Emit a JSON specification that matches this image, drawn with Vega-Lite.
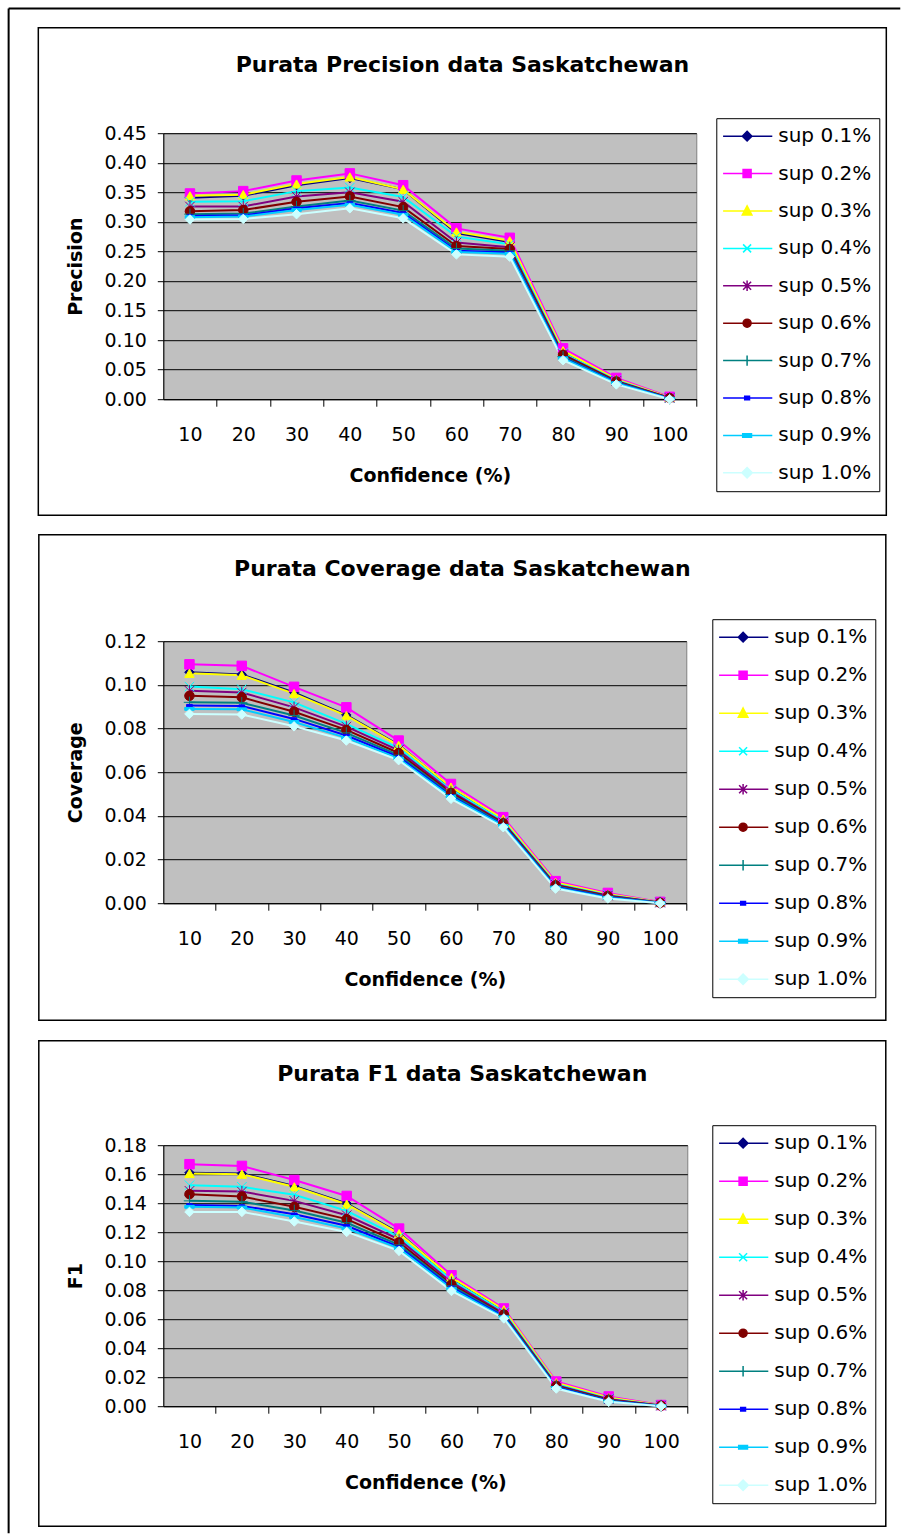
{
  "$schema": "https://vega.github.io/schema/vega-lite/v6.json",
  "padding": {"left": 6.3, "top": 6.2, "right": 0, "bottom": 0},
  "background": "#ffffff",
  "datasets": {
    "sask": [
      {"c":10,"s":"sup 0.1%","p":0.341,"cv":0.1058,"f":0.1610},
      {"c":10,"s":"sup 0.2%","p":0.348,"cv":0.1094,"f":0.1669},
      {"c":10,"s":"sup 0.3%","p":0.344,"cv":0.1053,"f":0.1605},
      {"c":10,"s":"sup 0.4%","p":0.334,"cv":0.0992,"f":0.1524},
      {"c":10,"s":"sup 0.5%","p":0.326,"cv":0.0973,"f":0.1485},
      {"c":10,"s":"sup 0.6%","p":0.318,"cv":0.0950,"f":0.1462},
      {"c":10,"s":"sup 0.7%","p":0.313,"cv":0.0920,"f":0.1416},
      {"c":10,"s":"sup 0.8%","p":0.310,"cv":0.0905,"f":0.1388},
      {"c":10,"s":"sup 0.9%","p":0.308,"cv":0.0890,"f":0.1375},
      {"c":10,"s":"sup 1.0%","p":0.304,"cv":0.0867,"f":0.1340},
      {"c":20,"s":"sup 0.1%","p":0.344,"cv":0.1048,"f":0.1605},
      {"c":20,"s":"sup 0.2%","p":0.352,"cv":0.1087,"f":0.1657},
      {"c":20,"s":"sup 0.3%","p":0.346,"cv":0.1044,"f":0.1600},
      {"c":20,"s":"sup 0.4%","p":0.335,"cv":0.0980,"f":0.1513},
      {"c":20,"s":"sup 0.5%","p":0.326,"cv":0.0965,"f":0.1480},
      {"c":20,"s":"sup 0.6%","p":0.320,"cv":0.0943,"f":0.1446},
      {"c":20,"s":"sup 0.7%","p":0.314,"cv":0.0918,"f":0.1410},
      {"c":20,"s":"sup 0.8%","p":0.311,"cv":0.0903,"f":0.1381},
      {"c":20,"s":"sup 0.9%","p":0.309,"cv":0.0888,"f":0.1370},
      {"c":20,"s":"sup 1.0%","p":0.305,"cv":0.0864,"f":0.1340},
      {"c":30,"s":"sup 0.1%","p":0.362,"cv":0.0965,"f":0.1518},
      {"c":30,"s":"sup 0.2%","p":0.370,"cv":0.0991,"f":0.1560},
      {"c":30,"s":"sup 0.3%","p":0.364,"cv":0.0960,"f":0.1513},
      {"c":30,"s":"sup 0.4%","p":0.352,"cv":0.0920,"f":0.1458},
      {"c":30,"s":"sup 0.5%","p":0.343,"cv":0.0897,"f":0.1416},
      {"c":30,"s":"sup 0.6%","p":0.334,"cv":0.0877,"f":0.1375},
      {"c":30,"s":"sup 0.7%","p":0.326,"cv":0.0860,"f":0.1350},
      {"c":30,"s":"sup 0.8%","p":0.323,"cv":0.0844,"f":0.1324},
      {"c":30,"s":"sup 0.9%","p":0.320,"cv":0.0830,"f":0.1305},
      {"c":30,"s":"sup 1.0%","p":0.313,"cv":0.0810,"f":0.1274},
      {"c":40,"s":"sup 0.1%","p":0.374,"cv":0.0862,"f":0.1398},
      {"c":40,"s":"sup 0.2%","p":0.382,"cv":0.0897,"f":0.1450},
      {"c":40,"s":"sup 0.3%","p":0.376,"cv":0.0859,"f":0.1393},
      {"c":40,"s":"sup 0.4%","p":0.358,"cv":0.0821,"f":0.1347},
      {"c":40,"s":"sup 0.5%","p":0.350,"cv":0.0809,"f":0.1317},
      {"c":40,"s":"sup 0.6%","p":0.343,"cv":0.0794,"f":0.1290},
      {"c":40,"s":"sup 0.7%","p":0.336,"cv":0.0780,"f":0.1265},
      {"c":40,"s":"sup 0.8%","p":0.332,"cv":0.0768,"f":0.1244},
      {"c":40,"s":"sup 0.9%","p":0.329,"cv":0.0757,"f":0.1225},
      {"c":40,"s":"sup 1.0%","p":0.323,"cv":0.0745,"f":0.1202},
      {"c":50,"s":"sup 0.1%","p":0.355,"cv":0.0725,"f":0.1195},
      {"c":50,"s":"sup 0.2%","p":0.362,"cv":0.0745,"f":0.1225},
      {"c":50,"s":"sup 0.3%","p":0.355,"cv":0.0723,"f":0.1190},
      {"c":50,"s":"sup 0.4%","p":0.342,"cv":0.0710,"f":0.1168},
      {"c":50,"s":"sup 0.5%","p":0.334,"cv":0.0700,"f":0.1150},
      {"c":50,"s":"sup 0.6%","p":0.325,"cv":0.0688,"f":0.1129},
      {"c":50,"s":"sup 0.7%","p":0.319,"cv":0.0678,"f":0.1112},
      {"c":50,"s":"sup 0.8%","p":0.315,"cv":0.0670,"f":0.1098},
      {"c":50,"s":"sup 0.9%","p":0.312,"cv":0.0663,"f":0.1088},
      {"c":50,"s":"sup 1.0%","p":0.306,"cv":0.0655,"f":0.1071},
      {"c":60,"s":"sup 0.1%","p":0.281,"cv":0.0530,"f":0.0885},
      {"c":60,"s":"sup 0.2%","p":0.289,"cv":0.0546,"f":0.0903},
      {"c":60,"s":"sup 0.3%","p":0.283,"cv":0.0532,"f":0.0888},
      {"c":60,"s":"sup 0.4%","p":0.275,"cv":0.0520,"f":0.0870},
      {"c":60,"s":"sup 0.5%","p":0.265,"cv":0.0512,"f":0.0855},
      {"c":60,"s":"sup 0.6%","p":0.259,"cv":0.0505,"f":0.0840},
      {"c":60,"s":"sup 0.7%","p":0.255,"cv":0.0498,"f":0.0830},
      {"c":60,"s":"sup 0.8%","p":0.251,"cv":0.0492,"f":0.0820},
      {"c":60,"s":"sup 0.9%","p":0.249,"cv":0.0487,"f":0.0810},
      {"c":60,"s":"sup 1.0%","p":0.245,"cv":0.0478,"f":0.0795},
      {"c":70,"s":"sup 0.1%","p":0.266,"cv":0.0383,"f":0.0662},
      {"c":70,"s":"sup 0.2%","p":0.273,"cv":0.0394,"f":0.0674},
      {"c":70,"s":"sup 0.3%","p":0.268,"cv":0.0385,"f":0.0665},
      {"c":70,"s":"sup 0.4%","p":0.262,"cv":0.0376,"f":0.0650},
      {"c":70,"s":"sup 0.5%","p":0.257,"cv":0.0370,"f":0.0640},
      {"c":70,"s":"sup 0.6%","p":0.254,"cv":0.0366,"f":0.0632},
      {"c":70,"s":"sup 0.7%","p":0.251,"cv":0.0361,"f":0.0625},
      {"c":70,"s":"sup 0.8%","p":0.248,"cv":0.0357,"f":0.0618},
      {"c":70,"s":"sup 0.9%","p":0.246,"cv":0.0354,"f":0.0612},
      {"c":70,"s":"sup 1.0%","p":0.241,"cv":0.0348,"f":0.0605},
      {"c":80,"s":"sup 0.1%","p":0.080,"cv":0.0092,"f":0.0158},
      {"c":80,"s":"sup 0.2%","p":0.086,"cv":0.0101,"f":0.0170},
      {"c":80,"s":"sup 0.3%","p":0.082,"cv":0.0095,"f":0.0162},
      {"c":80,"s":"sup 0.4%","p":0.078,"cv":0.0088,"f":0.0152},
      {"c":80,"s":"sup 0.5%","p":0.076,"cv":0.0085,"f":0.0145},
      {"c":80,"s":"sup 0.6%","p":0.075,"cv":0.0082,"f":0.0140},
      {"c":80,"s":"sup 0.7%","p":0.072,"cv":0.0078,"f":0.0135},
      {"c":80,"s":"sup 0.8%","p":0.070,"cv":0.0074,"f":0.0130},
      {"c":80,"s":"sup 0.9%","p":0.069,"cv":0.0071,"f":0.0126},
      {"c":80,"s":"sup 1.0%","p":0.066,"cv":0.0067,"f":0.0122},
      {"c":90,"s":"sup 0.1%","p":0.033,"cv":0.0040,"f":0.0058},
      {"c":90,"s":"sup 0.2%","p":0.036,"cv":0.0047,"f":0.0067},
      {"c":90,"s":"sup 0.3%","p":0.034,"cv":0.0042,"f":0.0060},
      {"c":90,"s":"sup 0.4%","p":0.032,"cv":0.0038,"f":0.0052},
      {"c":90,"s":"sup 0.5%","p":0.031,"cv":0.0035,"f":0.0048},
      {"c":90,"s":"sup 0.6%","p":0.030,"cv":0.0033,"f":0.0044},
      {"c":90,"s":"sup 0.7%","p":0.029,"cv":0.0030,"f":0.0040},
      {"c":90,"s":"sup 0.8%","p":0.028,"cv":0.0027,"f":0.0036},
      {"c":90,"s":"sup 0.9%","p":0.027,"cv":0.0025,"f":0.0033},
      {"c":90,"s":"sup 1.0%","p":0.025,"cv":0.0022,"f":0.0030},
      {"c":100,"s":"sup 0.1%","p":0.003,"cv":0.0004,"f":0.0006},
      {"c":100,"s":"sup 0.2%","p":0.004,"cv":0.0006,"f":0.0008},
      {"c":100,"s":"sup 0.3%","p":0.003,"cv":0.0004,"f":0.0006},
      {"c":100,"s":"sup 0.4%","p":0.002,"cv":0.0003,"f":0.0005},
      {"c":100,"s":"sup 0.5%","p":0.002,"cv":0.0003,"f":0.0004},
      {"c":100,"s":"sup 0.6%","p":0.002,"cv":0.0002,"f":0.0003},
      {"c":100,"s":"sup 0.7%","p":0.001,"cv":0.0002,"f":0.0002},
      {"c":100,"s":"sup 0.8%","p":0.001,"cv":0.0001,"f":0.0002},
      {"c":100,"s":"sup 0.9%","p":0.001,"cv":0.0001,"f":0.0001},
      {"c":100,"s":"sup 1.0%","p":0.000,"cv":0.0000,"f":0.0000}
    ]
  },
  "bounds": "flush",
  "spacing": 242,
  "resolve": {
    "scale": {"color": "independent", "stroke": "independent", "shape": "independent"},
    "legend": {"color": "independent", "stroke": "independent", "shape": "independent"}
  },
  "vconcat": [
    {
      "width": 533, "height": 266,
      "view": {"fill": "#C0C0C0", "stroke": "#808080", "strokeWidth": 1},
      "title": {"text": "Purata Precision data Saskatchewan", "offset": -70, "dx": 8},
      "resolve": {
        "scale": {"color": "independent", "stroke": "independent", "shape": "independent"},
        "legend": {"color": "independent", "stroke": "independent", "shape": "independent"}
      },
      "layer": [
        {
          "data": {"name": "sask"},
          "mark": {"type": "line", "strokeWidth": 2},
          "encoding": {
            "x": {"field": "c", "type": "quantitative", "scale": {"domain": [5, 105], "nice": false, "zero": false},
                  "axis": {"values": [10,20,30,40,50,60,70,80,90,100], "tickCount": 30, "tickOffset": 26.65, "labelOffset": -26.65, "title": "Confidence (%)"}},
            "y": {"field": "p", "type": "quantitative", "scale": {"domain": [0, 0.45], "nice": false, "zero": false},
                  "axis": {"values": [0,0.05,0.1,0.15,0.2,0.25,0.3,0.35,0.4,0.45], "tickCount": 30, "format": ".2f", "title": "Precision"}},
            "color": {"field": "s", "type": "nominal", "legend": null,
                      "scale": {"domain": ["sup 0.1%","sup 0.2%","sup 0.3%","sup 0.4%","sup 0.5%","sup 0.6%","sup 0.7%","sup 0.8%","sup 0.9%","sup 1.0%"],
                                "range": ["#000080","#FF00FF","#FFFF00","#00FFFF","#800080","#800000","#008080","#0000FF","#00CCFF","#CCFFFF"]}}
          }
        },
        {
          "data": {"name": "sask"},
          "mark": {"type": "point", "filled": true, "size": 90, "strokeWidth": 1, "opacity": 1},
          "encoding": {
            "x": {"field": "c", "type": "quantitative"},
            "y": {"field": "p", "type": "quantitative"},
            "color": {"field": "s", "type": "nominal", "legend": null,
                      "scale": {"domain": ["sup 0.1%","sup 0.2%","sup 0.3%","sup 0.4%","sup 0.5%","sup 0.6%","sup 0.7%","sup 0.8%","sup 0.9%","sup 1.0%"],
                                "range": ["#000080","#FF00FF","#FFFF00","#00FFFF","#800080","#800000","#008080","#0000FF","#00CCFF","#CCFFFF"]}},
            "stroke": {"field": "s", "type": "nominal", "legend": null,
                       "scale": {"domain": ["sup 0.1%","sup 0.2%","sup 0.3%","sup 0.4%","sup 0.5%","sup 0.6%","sup 0.7%","sup 0.8%","sup 0.9%","sup 1.0%"],
                                 "range": ["#000080","#FF00FF","#FFFF00","#00FFFF","#800080","#800000","#008080","#0000FF","#00CCFF","#CCFFFF"]}},
            "shape": {"field": "s", "type": "nominal", "legend": null,
                      "scale": {"domain": ["sup 0.1%","sup 0.2%","sup 0.3%","sup 0.4%","sup 0.5%","sup 0.6%","sup 0.7%","sup 0.8%","sup 0.9%","sup 1.0%"],
                                "range": ["diamond","square","triangle-up","M-1,-1L1,1M-1,1L1,-1","M-1,-1L1,1M-1,1L1,-1M0,-1.2L0,1.2","circle","M-1.2,0L1.2,0M0,-1.2L0,1.2","M-0.6,-0.25L0.6,-0.25L0.6,0.25L-0.6,0.25Z","M-1,-0.3L1,-0.3L1,0.3L-1,0.3Z","diamond"]}}
          }
        },
        {
          "data": {"name": "sask"},
          "mark": {"type": "point", "filled": true, "size": 80, "strokeWidth": 1.5, "opacity": 0},
          "encoding": {
            "x": {"field": "c", "type": "quantitative"},
            "y": {"field": "p", "type": "quantitative"},
            "color": {"field": "s", "type": "nominal",
                      "scale": {"domain": ["sup 0.1%","sup 0.2%","sup 0.3%","sup 0.4%","sup 0.5%","sup 0.6%","sup 0.7%","sup 0.8%","sup 0.9%","sup 1.0%"],
                                "range": ["#000080","#FF00FF","#FFFF00","#00FFFF","#800080","#800000","#008080","#0000FF","#00CCFF","#CCFFFF"]},
                      "legend": {"legendX": 553, "legendY": -15, "rowPadding": 17.4}},
            "stroke": {"field": "s", "type": "nominal", "legend": null,
                       "scale": {"domain": ["sup 0.1%","sup 0.2%","sup 0.3%","sup 0.4%","sup 0.5%","sup 0.6%","sup 0.7%","sup 0.8%","sup 0.9%","sup 1.0%"],
                                 "range": ["#000080","#FF00FF","#FFFF00","#00FFFF","#800080","#800000","#008080","#0000FF","#00CCFF","#CCFFFF"]}},
            "shape": {"field": "s", "type": "nominal", "legend": null,
                      "scale": {"domain": ["sup 0.1%","sup 0.2%","sup 0.3%","sup 0.4%","sup 0.5%","sup 0.6%","sup 0.7%","sup 0.8%","sup 0.9%","sup 1.0%"],
                                "range": ["M-1.4,0L4.75,0M1.6,-0.6L2.2,0L1.6,0.6L1,0Z","M-1.4,0L4.75,0M1.1,-0.5L2.1,-0.5L2.1,0.5L1.1,0.5Z","M-1.4,0L4.75,0M1.6,-0.65L2.2,0.5L1,0.5Z","M-1.4,0L4.75,0M1.1,-0.5L2.1,0.5M1.1,0.5L2.1,-0.5","M-1.4,0L4.75,0M1.1,-0.5L2.1,0.5M1.1,0.5L2.1,-0.5M1.6,-0.65L1.6,0.65","M-1.4,0L4.75,0M1.1,0A0.5,0.5 0 1,0 2.1,0A0.5,0.5 0 1,0 1.1,0Z","M-1.4,0L4.75,0M1.6,-0.65L1.6,0.65","M-1.4,0L4.75,0M1.3,-0.22L1.9,-0.22L1.9,0.22L1.3,0.22Z","M-1.4,0L4.75,0M1.05,-0.22L2.15,-0.22L2.15,0.22L1.05,0.22Z","M-1.4,0L4.75,0M1.6,-0.65L2.25,0L1.6,0.65L0.95,0Z"]}}
          }
        },
        {
          "data": {"values": [{}]},
          "mark": {"type": "rect", "fill": "transparent", "stroke": "#000000", "strokeWidth": 1.5},
          "encoding": {"x": {"datum": -18.45, "type": "quantitative"}, "x2": {"datum": 140.65}, "y": {"datum": 0.6285, "type": "quantitative"}, "y2": {"datum": -0.1963}}
        },
        {
          "data": {"values": [{}]},
          "mark": {"type": "rule", "stroke": "#000000", "strokeWidth": 2},
          "encoding": {"x": {"datum": -24.02, "type": "quantitative"}, "x2": {"datum": 143.27}, "y": {"datum": 0.6611, "type": "quantitative"}}
        },
        {
          "data": {"values": [{}]},
          "mark": {"type": "rule", "stroke": "#000000", "strokeWidth": 2},
          "encoding": {"x": {"datum": -24.02, "type": "quantitative"}, "y": {"datum": 0.6611, "type": "quantitative"}, "y2": {"datum": -1.9185}}
        }
      ]
    },
    {
      "width": 523, "height": 262,
      "view": {"fill": "#C0C0C0", "stroke": "#808080", "strokeWidth": 1},
      "title": {"text": "Purata Coverage data Saskatchewan", "offset": -47},
      "resolve": {
        "scale": {"color": "independent", "stroke": "independent", "shape": "independent"},
        "legend": {"color": "independent", "stroke": "independent", "shape": "independent"}
      },
      "layer": [
        {
          "data": {"name": "sask"},
          "mark": {"type": "line", "strokeWidth": 2},
          "encoding": {
            "x": {"field": "c", "type": "quantitative", "scale": {"domain": [5, 105], "nice": false, "zero": false},
                  "axis": {"values": [10,20,30,40,50,60,70,80,90,100], "tickCount": 30, "tickOffset": 26.15, "labelOffset": -26.15, "title": "Confidence (%)"}},
            "y": {"field": "cv", "type": "quantitative", "scale": {"domain": [0, 0.12], "nice": false, "zero": false},
                  "axis": {"values": [0,0.02,0.04,0.06,0.08,0.1,0.12], "tickCount": 30, "format": ".2f", "title": "Coverage"}},
            "color": {"field": "s", "type": "nominal", "legend": null,
                      "scale": {"domain": ["sup 0.1%","sup 0.2%","sup 0.3%","sup 0.4%","sup 0.5%","sup 0.6%","sup 0.7%","sup 0.8%","sup 0.9%","sup 1.0%"],
                                "range": ["#000080","#FF00FF","#FFFF00","#00FFFF","#800080","#800000","#008080","#0000FF","#00CCFF","#CCFFFF"]}}
          }
        },
        {
          "data": {"name": "sask"},
          "mark": {"type": "point", "filled": true, "size": 90, "strokeWidth": 1, "opacity": 1},
          "encoding": {
            "x": {"field": "c", "type": "quantitative"},
            "y": {"field": "cv", "type": "quantitative"},
            "color": {"field": "s", "type": "nominal", "legend": null,
                      "scale": {"domain": ["sup 0.1%","sup 0.2%","sup 0.3%","sup 0.4%","sup 0.5%","sup 0.6%","sup 0.7%","sup 0.8%","sup 0.9%","sup 1.0%"],
                                "range": ["#000080","#FF00FF","#FFFF00","#00FFFF","#800080","#800000","#008080","#0000FF","#00CCFF","#CCFFFF"]}},
            "stroke": {"field": "s", "type": "nominal", "legend": null,
                       "scale": {"domain": ["sup 0.1%","sup 0.2%","sup 0.3%","sup 0.4%","sup 0.5%","sup 0.6%","sup 0.7%","sup 0.8%","sup 0.9%","sup 1.0%"],
                                 "range": ["#000080","#FF00FF","#FFFF00","#00FFFF","#800080","#800000","#008080","#0000FF","#00CCFF","#CCFFFF"]}},
            "shape": {"field": "s", "type": "nominal", "legend": null,
                      "scale": {"domain": ["sup 0.1%","sup 0.2%","sup 0.3%","sup 0.4%","sup 0.5%","sup 0.6%","sup 0.7%","sup 0.8%","sup 0.9%","sup 1.0%"],
                                "range": ["diamond","square","triangle-up","M-1,-1L1,1M-1,1L1,-1","M-1,-1L1,1M-1,1L1,-1M0,-1.2L0,1.2","circle","M-1.2,0L1.2,0M0,-1.2L0,1.2","M-0.6,-0.25L0.6,-0.25L0.6,0.25L-0.6,0.25Z","M-1,-0.3L1,-0.3L1,0.3L-1,0.3Z","diamond"]}}
          }
        },
        {
          "data": {"name": "sask"},
          "mark": {"type": "point", "filled": true, "size": 80, "strokeWidth": 1.5, "opacity": 0},
          "encoding": {
            "x": {"field": "c", "type": "quantitative"},
            "y": {"field": "cv", "type": "quantitative"},
            "color": {"field": "s", "type": "nominal",
                      "scale": {"domain": ["sup 0.1%","sup 0.2%","sup 0.3%","sup 0.4%","sup 0.5%","sup 0.6%","sup 0.7%","sup 0.8%","sup 0.9%","sup 1.0%"],
                                "range": ["#000080","#FF00FF","#FFFF00","#00FFFF","#800080","#800000","#008080","#0000FF","#00CCFF","#CCFFFF"]},
                      "legend": {"legendX": 549, "legendY": -22, "rowPadding": 18}},
            "stroke": {"field": "s", "type": "nominal", "legend": null,
                       "scale": {"domain": ["sup 0.1%","sup 0.2%","sup 0.3%","sup 0.4%","sup 0.5%","sup 0.6%","sup 0.7%","sup 0.8%","sup 0.9%","sup 1.0%"],
                                 "range": ["#000080","#FF00FF","#FFFF00","#00FFFF","#800080","#800000","#008080","#0000FF","#00CCFF","#CCFFFF"]}},
            "shape": {"field": "s", "type": "nominal", "legend": null,
                      "scale": {"domain": ["sup 0.1%","sup 0.2%","sup 0.3%","sup 0.4%","sup 0.5%","sup 0.6%","sup 0.7%","sup 0.8%","sup 0.9%","sup 1.0%"],
                                "range": ["M-1.4,0L4.75,0M1.6,-0.6L2.2,0L1.6,0.6L1,0Z","M-1.4,0L4.75,0M1.1,-0.5L2.1,-0.5L2.1,0.5L1.1,0.5Z","M-1.4,0L4.75,0M1.6,-0.65L2.2,0.5L1,0.5Z","M-1.4,0L4.75,0M1.1,-0.5L2.1,0.5M1.1,0.5L2.1,-0.5","M-1.4,0L4.75,0M1.1,-0.5L2.1,0.5M1.1,0.5L2.1,-0.5M1.6,-0.65L1.6,0.65","M-1.4,0L4.75,0M1.1,0A0.5,0.5 0 1,0 2.1,0A0.5,0.5 0 1,0 1.1,0Z","M-1.4,0L4.75,0M1.6,-0.65L1.6,0.65","M-1.4,0L4.75,0M1.3,-0.22L1.9,-0.22L1.9,0.22L1.3,0.22Z","M-1.4,0L4.75,0M1.05,-0.22L2.15,-0.22L2.15,0.22L1.05,0.22Z","M-1.4,0L4.75,0M1.6,-0.65L2.25,0L1.6,0.65L0.95,0Z"]}}
          }
        },
        {
          "data": {"values": [{}]},
          "mark": {"type": "rect", "fill": "transparent", "stroke": "#000000", "strokeWidth": 1.5},
          "encoding": {"x": {"datum": -18.8, "type": "quantitative"}, "x2": {"datum": 143.15}, "y": {"datum": 0.16878, "type": "quantitative"}, "y2": {"datum": -0.05359}}
        }
      ]
    },
    {
      "width": 524, "height": 261,
      "view": {"fill": "#C0C0C0", "stroke": "#808080", "strokeWidth": 1},
      "title": {"text": "Purata F1 data Saskatchewan", "offset": -46},
      "resolve": {
        "scale": {"color": "independent", "stroke": "independent", "shape": "independent"},
        "legend": {"color": "independent", "stroke": "independent", "shape": "independent"}
      },
      "layer": [
        {
          "data": {"name": "sask"},
          "mark": {"type": "line", "strokeWidth": 2},
          "encoding": {
            "x": {"field": "c", "type": "quantitative", "scale": {"domain": [5, 105], "nice": false, "zero": false},
                  "axis": {"values": [10,20,30,40,50,60,70,80,90,100], "tickCount": 30, "tickOffset": 26.2, "labelOffset": -26.2, "title": "Confidence (%)"}},
            "y": {"field": "f", "type": "quantitative", "scale": {"domain": [0, 0.18], "nice": false, "zero": false},
                  "axis": {"values": [0,0.02,0.04,0.06,0.08,0.1,0.12,0.14,0.16,0.18], "tickCount": 30, "format": ".2f", "title": "F1"}},
            "color": {"field": "s", "type": "nominal", "legend": null,
                      "scale": {"domain": ["sup 0.1%","sup 0.2%","sup 0.3%","sup 0.4%","sup 0.5%","sup 0.6%","sup 0.7%","sup 0.8%","sup 0.9%","sup 1.0%"],
                                "range": ["#000080","#FF00FF","#FFFF00","#00FFFF","#800080","#800000","#008080","#0000FF","#00CCFF","#CCFFFF"]}}
          }
        },
        {
          "data": {"name": "sask"},
          "mark": {"type": "point", "filled": true, "size": 90, "strokeWidth": 1, "opacity": 1},
          "encoding": {
            "x": {"field": "c", "type": "quantitative"},
            "y": {"field": "f", "type": "quantitative"},
            "color": {"field": "s", "type": "nominal", "legend": null,
                      "scale": {"domain": ["sup 0.1%","sup 0.2%","sup 0.3%","sup 0.4%","sup 0.5%","sup 0.6%","sup 0.7%","sup 0.8%","sup 0.9%","sup 1.0%"],
                                "range": ["#000080","#FF00FF","#FFFF00","#00FFFF","#800080","#800000","#008080","#0000FF","#00CCFF","#CCFFFF"]}},
            "stroke": {"field": "s", "type": "nominal", "legend": null,
                       "scale": {"domain": ["sup 0.1%","sup 0.2%","sup 0.3%","sup 0.4%","sup 0.5%","sup 0.6%","sup 0.7%","sup 0.8%","sup 0.9%","sup 1.0%"],
                                 "range": ["#000080","#FF00FF","#FFFF00","#00FFFF","#800080","#800000","#008080","#0000FF","#00CCFF","#CCFFFF"]}},
            "shape": {"field": "s", "type": "nominal", "legend": null,
                      "scale": {"domain": ["sup 0.1%","sup 0.2%","sup 0.3%","sup 0.4%","sup 0.5%","sup 0.6%","sup 0.7%","sup 0.8%","sup 0.9%","sup 1.0%"],
                                "range": ["diamond","square","triangle-up","M-1,-1L1,1M-1,1L1,-1","M-1,-1L1,1M-1,1L1,-1M0,-1.2L0,1.2","circle","M-1.2,0L1.2,0M0,-1.2L0,1.2","M-0.6,-0.25L0.6,-0.25L0.6,0.25L-0.6,0.25Z","M-1,-0.3L1,-0.3L1,0.3L-1,0.3Z","diamond"]}}
          }
        },
        {
          "data": {"name": "sask"},
          "mark": {"type": "point", "filled": true, "size": 80, "strokeWidth": 1.5, "opacity": 0},
          "encoding": {
            "x": {"field": "c", "type": "quantitative"},
            "y": {"field": "f", "type": "quantitative"},
            "color": {"field": "s", "type": "nominal",
                      "scale": {"domain": ["sup 0.1%","sup 0.2%","sup 0.3%","sup 0.4%","sup 0.5%","sup 0.6%","sup 0.7%","sup 0.8%","sup 0.9%","sup 1.0%"],
                                "range": ["#000080","#FF00FF","#FFFF00","#00FFFF","#800080","#800000","#008080","#0000FF","#00CCFF","#CCFFFF"]},
                      "legend": {"legendX": 549, "legendY": -20, "rowPadding": 18}},
            "stroke": {"field": "s", "type": "nominal", "legend": null,
                       "scale": {"domain": ["sup 0.1%","sup 0.2%","sup 0.3%","sup 0.4%","sup 0.5%","sup 0.6%","sup 0.7%","sup 0.8%","sup 0.9%","sup 1.0%"],
                                 "range": ["#000080","#FF00FF","#FFFF00","#00FFFF","#800080","#800000","#008080","#0000FF","#00CCFF","#CCFFFF"]}},
            "shape": {"field": "s", "type": "nominal", "legend": null,
                      "scale": {"domain": ["sup 0.1%","sup 0.2%","sup 0.3%","sup 0.4%","sup 0.5%","sup 0.6%","sup 0.7%","sup 0.8%","sup 0.9%","sup 1.0%"],
                                "range": ["M-1.4,0L4.75,0M1.6,-0.6L2.2,0L1.6,0.6L1,0Z","M-1.4,0L4.75,0M1.1,-0.5L2.1,-0.5L2.1,0.5L1.1,0.5Z","M-1.4,0L4.75,0M1.6,-0.65L2.2,0.5L1,0.5Z","M-1.4,0L4.75,0M1.1,-0.5L2.1,0.5M1.1,0.5L2.1,-0.5","M-1.4,0L4.75,0M1.1,-0.5L2.1,0.5M1.1,0.5L2.1,-0.5M1.6,-0.65L1.6,0.65","M-1.4,0L4.75,0M1.1,0A0.5,0.5 0 1,0 2.1,0A0.5,0.5 0 1,0 1.1,0Z","M-1.4,0L4.75,0M1.6,-0.65L1.6,0.65","M-1.4,0L4.75,0M1.3,-0.22L1.9,-0.22L1.9,0.22L1.3,0.22Z","M-1.4,0L4.75,0M1.05,-0.22L2.15,-0.22L2.15,0.22L1.05,0.22Z","M-1.4,0L4.75,0M1.6,-0.65L2.25,0L1.6,0.65L0.95,0Z"]}}
          }
        },
        {
          "data": {"values": [{}]},
          "mark": {"type": "rect", "fill": "transparent", "stroke": "#000000", "strokeWidth": 1.5},
          "encoding": {"x": {"datum": -18.76, "type": "quantitative"}, "x2": {"datum": 142.88}, "y": {"datum": 0.25207, "type": "quantitative"}, "y2": {"datum": -0.08276}}
        }
      ]
    }
  ],
  "config": {
    "font": "DejaVu Sans",
    "title": {"font": "DejaVu Sans", "fontSize": 22, "fontWeight": "bold", "color": "#000000", "anchor": "middle", "frame": "bounds"},
    "axis": {"labelFont": "DejaVu Sans", "labelFontSize": 19, "labelColor": "#000000", "titleFont": "DejaVu Sans", "titleFontSize": 19, "titleFontWeight": "bold", "titleColor": "#000000", "domainColor": "#000000", "domainWidth": 1, "tickColor": "#000000", "tickWidth": 1, "gridColor": "#000000", "gridWidth": 1, "gridOpacity": 1, "labelOverlap": false},
    "axisY": {"grid": true, "tickSize": 6, "labelPadding": 11, "titlePadding": 18},
    "axisX": {"grid": false, "tickSize": 7, "labelPadding": 19, "titlePadding": 22},
    "legend": {
      "orient": "none", "title": null, "direction": "vertical",
      "labelFont": "DejaVu Sans", "labelFontSize": 20, "labelColor": "#000000", "labelLimit": 300,
      "symbolSize": 256, "symbolStrokeWidth": 1.5, "labelOffset": 34,
      "padding": 8,
      "strokeColor": "#000000", "fillColor": "#ffffff",
      "symbolOpacity": 1
    }
  }
}
